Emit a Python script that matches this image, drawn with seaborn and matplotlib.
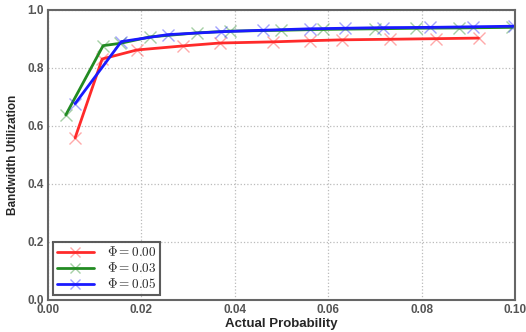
import numpy as np
import pandas as pd
import matplotlib
matplotlib.use("Agg")
import matplotlib.pyplot as plt
import seaborn as sns
from matplotlib.colors import to_rgba

# Measured bandwidth utilization for three Φ settings
prob_phi000 = [0.0058, 0.0116, 0.0190, 0.0289, 0.0368, 0.0481, 0.0560, 0.0630, 0.0732, 0.0830, 0.0922]
util_phi000 = [0.559, 0.831, 0.862, 0.876, 0.886, 0.890, 0.894, 0.897, 0.899, 0.901, 0.903]

prob_phi003 = [0.0038, 0.0118, 0.0155, 0.0218, 0.0319, 0.0390, 0.0500, 0.0589, 0.0700, 0.0789, 0.0880, 0.0993]
util_phi003 = [0.638, 0.877, 0.885, 0.907, 0.921, 0.927, 0.930, 0.933, 0.935, 0.937, 0.938, 0.940]

prob_phi005 = [0.0058, 0.0157, 0.0257, 0.0370, 0.0460, 0.0560, 0.0637, 0.0718, 0.0818, 0.0910, 0.0999]
util_phi005 = [0.677, 0.891, 0.915, 0.925, 0.930, 0.935, 0.937, 0.939, 0.940, 0.942, 0.944]

series_labels = [r"$\Phi=0.00$", r"$\Phi=0.03$", r"$\Phi=0.05$"]
series_colors = ["#ff2a2a", "#228b22", "#1a1aff"]

x_ticks = [0.00, 0.02, 0.04, 0.06, 0.08, 0.10]
y_ticks = [0.0, 0.2, 0.4, 0.6, 0.8, 1.0]

sns.set_style("white")
plt.rcParams["font.family"] = ["Liberation Sans", "DejaVu Sans"]
plt.rcParams["mathtext.fontset"] = "cm"

fig = plt.figure(figsize=(5.26, 3.32), dpi=100)
ax = fig.add_axes([0.0913, 0.0964, 0.8877, 0.8736])

frames = []
for xs, ys, lab in zip([prob_phi000, prob_phi003, prob_phi005],
                       [util_phi000, util_phi003, util_phi005],
                       series_labels):
    frames.append(pd.DataFrame({"prob": xs, "util": ys, "phi": lab}))
data = pd.concat(frames, ignore_index=True)

for lab, col in zip(series_labels, series_colors):
    sub = data[data["phi"] == lab]
    sns.lineplot(data=sub, x="prob", y="util", ax=ax, color=col, lw=2.0,
                 marker="x", markersize=8.5, markeredgewidth=1.0,
                 markeredgecolor=to_rgba(col, 0.4), label=lab,
                 sort=False, estimator=None)

ax.set_xlim(0, 0.10)
ax.set_ylim(0, 1.0)
ax.set_xticks(x_ticks)
ax.set_yticks(y_ticks)
ax.set_xticklabels([f"{t:.2f}" for t in x_ticks])
ax.set_yticklabels([f"{t:.1f}" for t in y_ticks])
ax.tick_params(axis="both", labelsize=8.5, length=0, pad=3)
for lbl in ax.get_xticklabels() + ax.get_yticklabels():
    lbl.set_fontweight("bold")
    lbl.set_color("#555555")

ax.grid(True, linestyle=":", color="#bbbbbb", linewidth=0.9)
for sp in ax.spines.values():
    sp.set_visible(True)
    sp.set_color("#666666")
    sp.set_linewidth(1.5)

ax.set_xlabel("Actual Probability", fontsize=9.5, fontweight="bold", labelpad=1)
ax.set_ylabel("Bandwidth Utilization", fontsize=8.5, fontweight="bold", labelpad=6)

leg = ax.legend(loc="lower left", fontsize=9.5, frameon=True, fancybox=False,
                handlelength=2.8, handletextpad=1.0, borderpad=0.3,
                labelspacing=0.15, borderaxespad=0.35, markerscale=0.8)
leg.get_frame().set_edgecolor("#333333")
leg.get_frame().set_linewidth(1.5)

fig.savefig("out.png", dpi=100)
